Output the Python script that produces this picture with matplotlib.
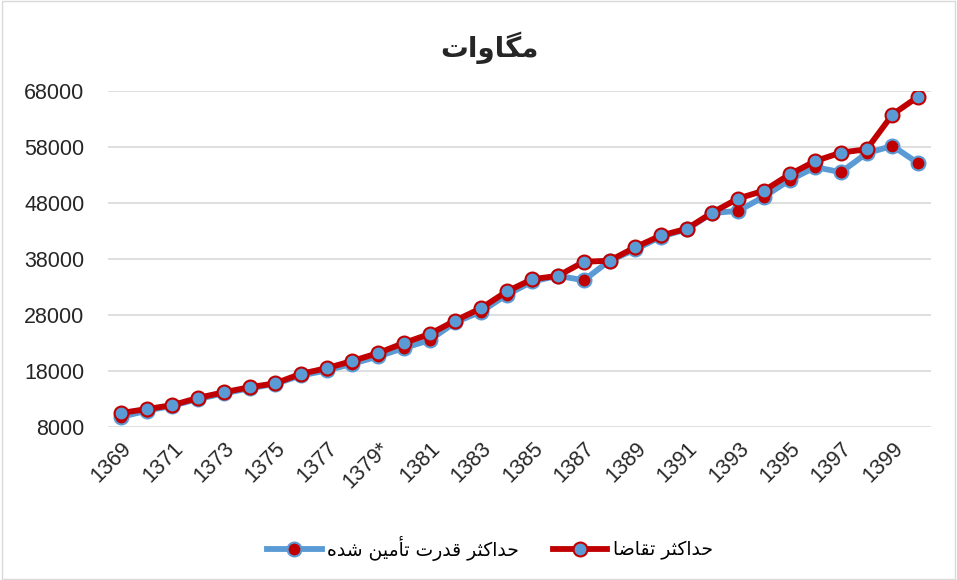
import numpy as np
import matplotlib.pyplot as plt
from matplotlib.lines import Line2D
from matplotlib.patches import Rectangle

# سال ها
years = ['1369', '1370', '1371', '1372', '1373', '1374', '1375', '1376', '1377', '1378',
         '1379*', '1380', '1381', '1382', '1383', '1384', '1385', '1386', '1387', '1388',
         '1389', '1390', '1391', '1392', '1393', '1394', '1395', '1396', '1397', '1398',
         '1399', '1400']

# حداکثر تقاضا (مگاوات)
demand = [10500, 11200, 11900, 13200, 14200, 15100, 15800, 17500, 18500, 19800,
          21200, 23000, 24600, 27000, 29200, 32200, 34400, 35000, 37500, 37700,
          40100, 42200, 43400, 46300, 48800, 50200, 53100, 55500, 57000, 57600,
          63800, 67000]

# حداکثر قدرت تأمین شده (مگاوات)
supply = [9800, 10900, 11800, 13000, 14000, 14900, 15700, 17200, 18100, 19300,
          20600, 22100, 23500, 26700, 28600, 31600, 34000, 35000, 34200, 37700,
          39700, 42000, 43300, 46200, 46600, 49100, 52100, 54400, 53500, 56900,
          58200, 55100]

yticks = [8000, 18000, 28000, 38000, 48000, 58000, 68000]

# متن فارسی به صورت حروف شکل یافته و ترتیب دیداری (matplotlib شکل دهی عربی ندارد)
title_txt = '\uFE95\uFE8D\uFEED\uFE8E\uFB95\uFEE3'                      # مگاوات
hadaksar = '\uFEAE\uFE9C\uFB90\uFE8D\uFEAA\uFEA3'                       # حداکثر
lbl_supply = ('\uFEE9\uFEAA\uFEB7' + ' ' + '\uFEE6\uFBFF\uFEE3\uFE84\uFE97' + ' '
              + '\uFE95\uFEAD\uFEAA\uFED7' + ' ' + hadaksar)            # حداکثر قدرت تأمین شده
lbl_demand = '\uFE8E\uFEBF\uFE8E\uFED8\uFE97' + ' ' + hadaksar          # حداکثر تقاضا

red = '#C00000'
blue = '#5B9BD5'
lw = 4.2
ms = 10

plt.rcParams['font.family'] = ['Liberation Sans', 'DejaVu Sans']

fig = plt.figure(figsize=(9.57, 5.8), dpi=100)
ax = fig.add_axes([0.1129, 0.2638, 0.86, 0.5793])

x = np.arange(len(years))
ax.plot(x, supply, color=blue, lw=lw, marker='o', ms=ms,
        mfc=red, mec=blue, mew=1.5, zorder=3)
ax.plot(x, demand, color=red, lw=lw, marker='o', ms=ms,
        mfc=blue, mec=red, mew=1.5, zorder=4)

ax.set_xlim(-0.5, len(years) - 0.5)
ax.set_ylim(8000, 68000)
ax.set_yticks(yticks)
ax.set_yticklabels([str(v) for v in yticks])
ax.set_xticks(x[::2])
ax.set_xticklabels(years[::2], rotation=45, ha='right', rotation_mode='anchor')
ax.tick_params(axis='both', length=0, labelsize=15.5, colors='#262626')
ax.tick_params(axis='y', pad=17)
ax.tick_params(axis='x', pad=8)

ax.grid(axis='y', color='#D9D9D9', lw=1.2)
ax.set_axisbelow(True)
for s in ax.spines.values():
    s.set_visible(False)

fig.text(0.511, 0.917, title_txt, ha='center', va='center', fontsize=20,
         fontweight='bold', family='DejaVu Sans', color='#262626')

handles = [Line2D([], [], color=blue, lw=lw, marker='o', ms=ms, mfc=red, mec=blue, mew=1.5),
           Line2D([], [], color=red, lw=lw, marker='o', ms=ms, mfc=blue, mec=red, mew=1.5)]
fig.legend(handles, [lbl_supply, lbl_demand], loc='center', bbox_to_anchor=(0.512, 0.055),
           ncol=2, frameon=False, handlelength=2.9, handletextpad=0.3, columnspacing=1.8,
           prop={'family': 'DejaVu Sans', 'size': 13.5})

fig.patches.append(Rectangle((0.002, 0.002), 0.996, 0.996, transform=fig.transFigure,
                             fill=False, edgecolor='#D9D9D9', lw=1))

fig.savefig('out.png', dpi=100)
